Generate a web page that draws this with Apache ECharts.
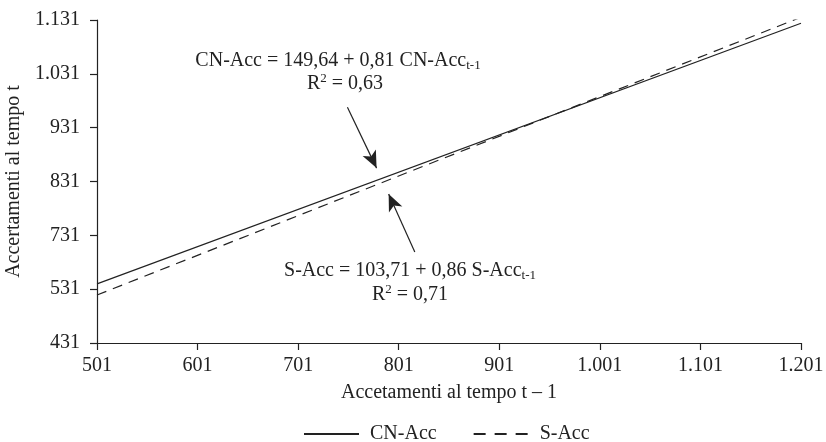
<!DOCTYPE html>
<html>
<head>
<meta charset="utf-8">
<script src="https://cdn.jsdelivr.net/npm/echarts@6/dist/echarts.min.js"></script>
<style>
  html, body { margin: 0; padding: 0; background: #fff; }
  #chart { width: 826px; height: 442px; }
</style>
</head>
<body>
<div id="chart"></div>
<script>
// tick labels as printed in the source (the y labels are not evenly spaced values)
const xTickLabels = ['501', '601', '701', '801', '901', '1.001', '1.101', '1.201'];
const yTickLabels = ['431', '531', '731', '831', '931', '1.031', '1.131'];

// regression lines, read at both ends of the x range
const cnAcc = [[501, 559], [1201, 1124]];
const sAcc = [[501, 535], [1201, 1137]];

// arrows pointing from the equations to the lines (data coords)
const cnArrow = [[750, 942], [779, 810]];
const sArrow = [[817, 628], [791, 754]];

const FONT = '"Liberation Serif", "DejaVu Serif", serif';
const INK = '#222';
const FS = 20;

const xMin = 501, xMax = 1201, xStep = 100;
const yMin = 431, yMax = 1131, yStep = (yMax - yMin) / (yTickLabels.length - 1);

const chart = echarts.init(document.getElementById('chart'));

const eqRich = {
  sub: { fontSize: 13, fontFamily: FONT, color: INK, verticalAlign: 'bottom', padding: [9, 0, 0, 0] },
  sup: { fontSize: 13, fontFamily: FONT, color: INK, verticalAlign: 'top', padding: [0, 0, 10, 0] }
};

function eqText(x, y, text) {
  return {
    type: 'text', x: x, y: y,
    style: { text: text, font: FS + 'px ' + FONT, fill: INK, align: 'center', rich: eqRich }
  };
}

const option = {
  animation: false,
  backgroundColor: '#fff',
  grid: { left: 97, right: 25, top: 20, bottom: 99, containLabel: false, outerBoundsMode: 'none' },
  xAxis: {
    type: 'value',
    min: xMin,
    max: xMax,
    interval: xStep,
    name: 'Accetamenti al tempo t \u2013 1',
    nameLocation: 'middle',
    nameGap: 40,
    nameTextStyle: { fontFamily: FONT, fontSize: FS, color: INK },
    splitLine: { show: false },
    axisLine: { lineStyle: { color: INK, width: 1.2 } },
    axisTick: { show: true, length: 7, lineStyle: { color: INK, width: 1.2 } },
    axisLabel: {
      fontFamily: FONT, fontSize: FS, color: INK, margin: 13,
      formatter: v => xTickLabels[Math.round((v - xMin) / xStep)] ?? ''
    }
  },
  yAxis: {
    type: 'value',
    min: yMin,
    max: yMax,
    interval: yStep,
    name: 'Accertamenti al tempo t',
    nameLocation: 'middle',
    nameGap: 68,
    nameTextStyle: { fontFamily: FONT, fontSize: FS, color: INK },
    splitLine: { show: false },
    axisLine: { show: true, lineStyle: { color: INK, width: 1.2 } },
    axisTick: { show: true, length: 7, lineStyle: { color: INK, width: 1.2 } },
    axisLabel: {
      fontFamily: FONT, fontSize: FS, color: INK, margin: 17,
      formatter: v => yTickLabels[Math.round((v - yMin) / yStep)] ?? ''
    }
  },
  legend: {
    bottom: -7,
    left: 298,
    itemWidth: 55,
    itemHeight: 10,
    itemGap: 36,
    itemStyle: { opacity: 0 },
    textStyle: { fontFamily: FONT, fontSize: FS, color: INK, padding: [0, 0, 0, 6] },
    data: [
      { name: 'CN-Acc' },
      { name: 'S-Acc', lineStyle: { type: [12, 9] } }
    ]
  },
  series: [
    {
      name: 'CN-Acc',
      type: 'line',
      data: cnAcc,
      symbol: 'none',
      lineStyle: { color: INK, width: 1.2, type: 'solid' },
      itemStyle: { color: INK },
      markLine: {
        silent: true,
        symbol: ['none', 'arrow'],
        symbolSize: [11, 17],
        label: { show: false },
        lineStyle: { color: INK, width: 1.2, type: 'solid' },
        data: [
          [{ coord: cnArrow[0] }, { coord: cnArrow[1] }],
          [{ coord: sArrow[0] }, { coord: sArrow[1] }]
        ]
      }
    },
    {
      name: 'S-Acc',
      type: 'line',
      data: sAcc,
      symbol: 'none',
      lineStyle: { color: INK, width: 1.2, type: [10, 7] },
      itemStyle: { color: INK }
    }
  ],
  graphic: [
    eqText(338, 50, 'CN-Acc = 149,64 + 0,81 CN-Acc{sub|t-1}'),
    eqText(345, 72, 'R{sup|2} = 0,63'),
    eqText(410, 260, 'S-Acc = 103,71 + 0,86 S-Acc{sub|t-1}'),
    eqText(410, 283, 'R{sup|2} = 0,71')
  ]
};

chart.setOption(option);
</script>
</body>
</html>
